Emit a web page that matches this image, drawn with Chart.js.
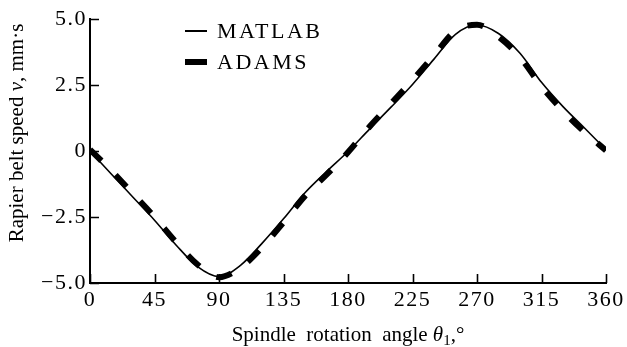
<!DOCTYPE html>
<html>
<head>
<meta charset="utf-8">
<script src="https://cdn.jsdelivr.net/npm/chart.js@4/dist/chart.umd.min.js"></script>
<style>
  html, body { margin: 0; padding: 0; background: #fff; }
  #c { display: block; }
</style>
</head>
<body>
<canvas id="c" width="627" height="347"></canvas>
<script>
// Spindle rotation angle, degrees
const angles = [0, 15, 30, 45, 60, 75, 90, 105, 120, 135, 150, 165, 180,
                195, 210, 225, 240, 255, 270, 285, 300, 315, 330, 345, 360];

// Rapier belt speed from the MATLAB model
const matlabSpeed = [0.00, -0.88, -1.75, -2.62, -3.56, -4.38, -4.76, -4.33, -3.50, -2.57, -1.58, -0.78, -0.02,
                     0.83, 1.66, 2.52, 3.48, 4.42, 4.77, 4.45, 3.70, 2.60, 1.68, 0.87, 0.05];

// Rapier belt speed from the ADAMS simulation
const adamsSpeed = [0.05, -0.75, -1.62, -2.50, -3.45, -4.30, -4.78, -4.42, -3.65, -2.70, -1.70, -0.90, -0.05,
                    0.92, 1.80, 2.68, 3.62, 4.55, 4.78, 4.33, 3.55, 2.45, 1.52, 0.72, 0.02];

const xTickValues = [0, 45, 90, 135, 180, 225, 270, 315, 360];
const yTickValues = [-5, -2.5, 0, 2.5, 5];
const yTickLabels = ['\u22125.0', '\u22122.5', '0', '2.5', '5.0'];

const SERIF = '"Liberation Serif", "Times New Roman", serif';

const toPoints = (ys) => angles.map((a, i) => ({ x: a, y: ys[i] }));

// Inward tick marks, legend and axis titles
const decor = {
  id: 'decor',
  beforeDraw(chart) {
    chart.ctx.letterSpacing = '1.5px';
  },
  afterDraw(chart) {
    const ctx = chart.ctx;
    const xs = chart.scales.x, ys = chart.scales.y;
    const area = chart.chartArea;
    ctx.save();
    ctx.letterSpacing = '0px';
    ctx.strokeStyle = '#000';
    ctx.lineWidth = 1.6;
    ctx.beginPath();
    xTickValues.forEach(v => {
      const px = Math.round(xs.getPixelForValue(v)) + 0.5;
      ctx.moveTo(px, area.bottom);
      ctx.lineTo(px, area.bottom - 9);
    });
    yTickValues.forEach(v => {
      const py = Math.round(ys.getPixelForValue(v)) + 0.5;
      ctx.moveTo(area.left, py);
      ctx.lineTo(area.left + 9, py);
    });
    ctx.stroke();

    // legend
    const sets = chart.data.datasets;
    const rows = [{ ds: sets[0], y: 31, w: 2 }, { ds: sets[1], y: 62, w: 6 }];
    rows.forEach(r => {
      ctx.beginPath();
      ctx.lineWidth = r.w;
      ctx.strokeStyle = r.ds.borderColor;
      ctx.setLineDash([]);
      ctx.lineCap = 'butt';
      ctx.moveTo(185, r.y);
      ctx.lineTo(207, r.y);
      ctx.stroke();
      ctx.fillStyle = '#000';
      ctx.font = '22px ' + SERIF;
      ctx.textBaseline = 'middle';
      ctx.textAlign = 'left';
      ctx.letterSpacing = '2.5px';
      ctx.fillText(r.ds.label, 217, r.y + 1);
      ctx.letterSpacing = '0px';
    });

    // mixed-style text helper
    const drawParts = (parts, cx, baseY) => {
      let total = 0;
      parts.forEach(p => {
        ctx.font = (p.italic ? 'italic ' : '') + p.size + 'px ' + SERIF;
        p.w = ctx.measureText(p.t).width;
        total += p.w;
      });
      let x = cx - total / 2;
      ctx.textAlign = 'left';
      ctx.textBaseline = 'alphabetic';
      parts.forEach(p => {
        ctx.font = (p.italic ? 'italic ' : '') + p.size + 'px ' + SERIF;
        ctx.fillText(p.t, x, baseY + (p.dy || 0));
        x += p.w;
      });
    };

    ctx.fillStyle = '#000';
    // x-axis title
    drawParts([
      { t: 'Spindle  rotation  angle ', size: 21 },
      { t: '\u03B8', size: 21, italic: true },
      { t: '1', size: 15, dy: 4 },
      { t: ',\u00B0', size: 21 }
    ], (area.left + area.right) / 2, 341);

    // y-axis title
    ctx.save();
    ctx.translate(23, 133);
    ctx.rotate(-Math.PI / 2);
    drawParts([
      { t: 'Rapier belt speed ', size: 21 },
      { t: 'v', size: 21, italic: true },
      { t: ', mm\u00B7s', size: 21 }
    ], 0, 0);
    ctx.restore();

    ctx.restore();
    ctx.letterSpacing = '0px';
  }
};

new Chart(document.getElementById('c'), {
  type: 'line',
  data: {
    datasets: [
      {
        label: 'MATLAB',
        data: toPoints(matlabSpeed),
        borderColor: '#000',
        borderWidth: 1.6,
        pointRadius: 0,
        cubicInterpolationMode: 'monotone',
        fill: false,
        order: 0
      },
      {
        label: 'ADAMS',
        data: toPoints(adamsSpeed),
        borderColor: '#000',
        borderWidth: 6,
        borderDash: [16, 20],
        borderCapStyle: 'butt',
        pointRadius: 0,
        cubicInterpolationMode: 'monotone',
        fill: false,
        order: 1
      }
    ]
  },
  options: {
    responsive: false,
    animation: false,
    devicePixelRatio: 1,
    layout: { padding: { top: 19, right: 21, left: 0, bottom: 0 } },
    plugins: { legend: { display: false }, tooltip: { enabled: false } },
    scales: {
      x: {
        type: 'linear',
        min: 0,
        max: 360,
        afterBuildTicks(scale) { scale.ticks = xTickValues.map(v => ({ value: v })); },
        ticks: {
          color: '#000',
          font: { family: SERIF, size: 22 },
          padding: 4,
          maxRotation: 0,
          autoSkip: false,
          callback: (v) => String(v)
        },
        grid: { display: false, drawTicks: false },
        border: { display: true, color: '#000', width: 2 },
        afterFit(scale) { scale.height = 64; }
      },
      y: {
        type: 'linear',
        min: -5,
        max: 5,
        afterBuildTicks(scale) { scale.ticks = yTickValues.map(v => ({ value: v })); },
        ticks: {
          color: '#000',
          font: { family: SERIF, size: 22 },
          padding: 3,
          autoSkip: false,
          callback: (v) => yTickLabels[yTickValues.indexOf(v)]
        },
        grid: { display: false, drawTicks: false },
        border: { display: true, color: '#000', width: 2 },
        afterFit(scale) { scale.width = 90; }
      }
    }
  },
  plugins: [decor]
});
</script>
</body>
</html>
